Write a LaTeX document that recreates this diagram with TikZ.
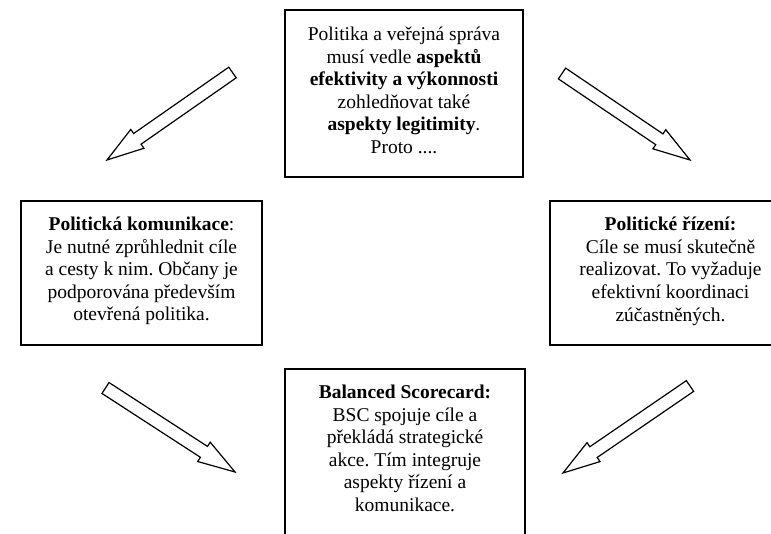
\documentclass[tikz,border=0pt]{standalone}
\usepackage{fontspec}
\setmainfont{Liberation Serif}
\usetikzlibrary{calc}
\frenchspacing
\tikzset{
  box/.style={draw, line width=1.6pt, inner sep=0pt, fill=white},
  txt/.style={align=center, inner sep=0pt, font=\fontsize{19.5}{22.6}\selectfont},
  hollowarrow/.style={draw, line width=1.2pt, fill=white, line join=miter},
}
% hollow block arrow from a tail coordinate (#1) to a tip coordinate (#2)
\newcommand\blockarrow[2]{%
  \coordinate (#1-b) at ($(#2)!37pt!(#1)$);
  \draw[hollowarrow]
    ($(#1)!6.5pt!90:(#2)$) -- ($(#1-b)!6.5pt!90:(#2)$) --
    ($(#1-b)!11.5pt!90:(#2)$) -- (#2) --
    ($(#1-b)!11.5pt!-90:(#2)$) -- ($(#1-b)!6.5pt!-90:(#2)$) --
    ($(#1)!6.5pt!-90:(#2)$) -- cycle;
}
\begin{document}
\begin{tikzpicture}[x=1pt,y=-1pt]
  \useasboundingbox (0,0) rectangle (771,534);
  \clip (0,0) rectangle (771,534);
  \fill[white] (0,0) rectangle (771,534);

  % boxes
  \node[box, minimum width=238pt, minimum height=167pt] (top) at (404,93.5) {};
  \node[box, minimum width=241pt, minimum height=144pt] (left) at (141.5,273) {};
  \node[box, minimum width=241pt, minimum height=144pt] (right) at (670.5,273) {};
  \node[box, minimum width=240pt, minimum height=167pt] (bottom) at (405,452.5) {};

  % texts
  \node[txt, anchor=north] (toptext) at ([yshift=-17.5pt]top.north)
    {Politika a veřejná správa\\ musí vedle \textbf{aspektů}\\ \textbf{efektivity a výkonnosti}\\ zohledňovat také\\ \textbf{aspekty legitimity}.\\ Proto ....};
  \node[txt, anchor=north] (lefttext) at ([yshift=-16.5pt]left.north)
    {\textbf{Politická komunikace}:\\ Je nutné zprůhlednit cíle\\ a cesty k nim. Občany je\\ podporována především\\ otevřená politika.};
  \node[txt, anchor=north] (righttext) at ([yshift=-16.5pt]right.north)
    {\textbf{Politické řízení:}\\ Cíle se musí skutečně\\ realizovat. To vyžaduje\\ efektivní koordinaci\\ zúčastněných.};
  \node[txt, anchor=north] (bottomtext) at ([yshift=-16.5pt]bottom.north)
    {\textbf{Balanced Scorecard:}\\ BSC spojuje cíle a\\ překládá strategické\\ akce. Tím integruje\\ aspekty řízení a\\ komunikace.};

  % arrow tails and tips
  \coordinate (a1t) at (232.5,72.5);  \coordinate (a1h) at (107,160);
  \coordinate (a2t) at (562,73.5);    \coordinate (a2h) at (690,160);
  \coordinate (a3t) at (105.5,388);   \coordinate (a3h) at (235,472);
  \coordinate (a4t) at (690,386);     \coordinate (a4h) at (563,473);

  \blockarrow{a1t}{a1h}
  \blockarrow{a2t}{a2h}
  \blockarrow{a3t}{a3h}
  \blockarrow{a4t}{a4h}
\end{tikzpicture}
\end{document}
